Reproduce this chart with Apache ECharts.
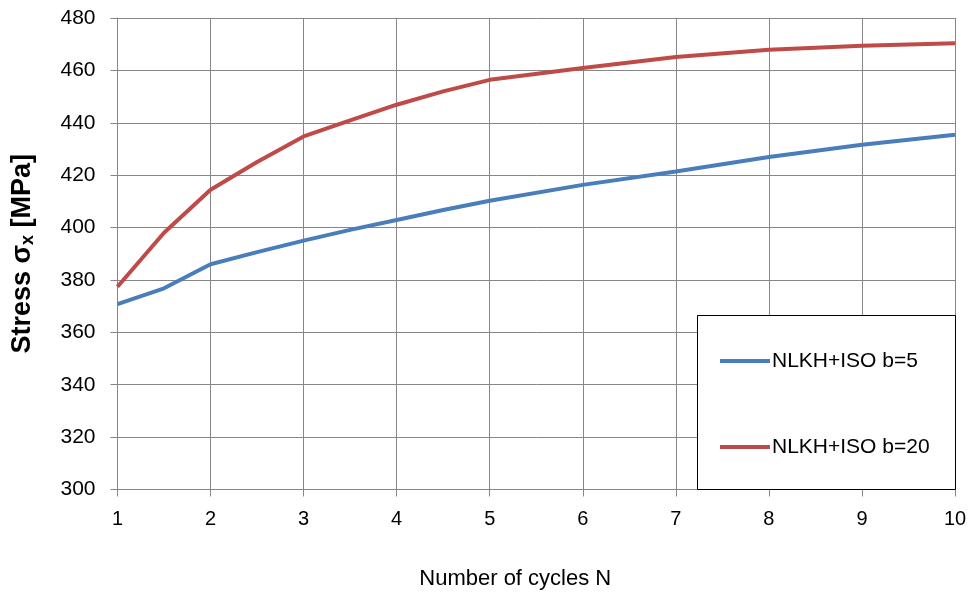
<!DOCTYPE html>
<html><head><meta charset="utf-8">
<script src="https://cdn.jsdelivr.net/npm/echarts@6/dist/echarts.min.js"></script>
<style>html,body{margin:0;padding:0;background:#fff}#c{width:970px;height:601px}</style>
</head><body><div id="c"></div>
<script>
const cycles = [1, 1.5, 2, 2.5, 3, 3.5, 4, 4.5, 5, 6, 7, 8, 9, 10];
const stressB5 = [370.8, 376.8, 386, 390.6, 395, 399.1, 402.9, 406.7, 410.2, 416.3, 421.4, 426.9, 431.6, 435.4];
const stressB20 = [377.4, 398, 414.4, 425, 434.8, 440.9, 446.9, 452, 456.4, 460.9, 465.1, 467.9, 469.4, 470.4];
const seriesNames = ['NLKH+ISO b=5', 'NLKH+ISO b=20'];
const yMin = 300, yMax = 480, yStep = 20;
const xMin = 1, xMax = 10, xStep = 1;

const font = 'Liberation Sans';
const gridC = '#868686';
const chart = echarts.init(document.getElementById('c'), null, {renderer: 'canvas'});
const pairs = vals => cycles.map((x, i) => [x, vals[i]]);
chart.setOption({
  animation: false,
  backgroundColor: '#fff',
  grid: {left: 117.5, right: 15, top: 18, bottom: 111.5, containLabel: false},
  xAxis: {
    type: 'value', min: xMin, max: xMax, interval: xStep,
    name: 'Number of cycles N', nameLocation: 'middle', nameGap: 78,
    nameTextStyle: {fontFamily: font, fontSize: 22, color: '#000', padding: [0, 42, 0, 0]},
    axisLine: {show: true, lineStyle: {color: gridC, width: 1}},
    axisTick: {show: true, length: 7, lineStyle: {color: gridC}},
    axisLabel: {fontFamily: font, fontSize: 20, color: '#000', margin: 20},
    splitLine: {show: true, lineStyle: {color: gridC, width: 1}}
  },
  yAxis: {
    type: 'value', min: yMin, max: yMax, interval: yStep,
    name: '{b|Stress σ}{s|x}{b| [MPa]}', nameLocation: 'middle', nameGap: 80,
    nameTextStyle: {rich: {
      b: {fontFamily: font, fontSize: 27, fontWeight: 'bold', color: '#000'},
      s: {fontFamily: font, fontSize: 18, fontWeight: 'bold', color: '#000', verticalAlign: 'bottom', padding: [12, 0, 0, 0]}
    }},
    axisLine: {show: true, lineStyle: {color: gridC, width: 1}},
    axisTick: {show: true, length: 7, lineStyle: {color: gridC}},
    axisLabel: {fontFamily: font, fontSize: 21, color: '#000', margin: 22},
    splitLine: {show: true, lineStyle: {color: gridC, width: 1}}
  },
  legend: {
    orient: 'vertical', left: 715, top: 344, itemGap: 62, z: 20, zlevel: 0,
    itemWidth: 50, itemHeight: 4, icon: 'rect',
    textStyle: {fontFamily: font, fontSize: 21, color: '#000', padding: [0, 0, 0, -3], lineHeight: 24},
    data: seriesNames
  },
  graphic: [{
    type: 'rect', left: 697, top: 315, z: 10,
    shape: {width: 258, height: 174},
    style: {fill: '#fff', stroke: '#000', lineWidth: 1}
  }],
  series: [
    {name: seriesNames[0], type: 'line', data: pairs(stressB5), symbol: 'none', smooth: false,
     lineStyle: {color: '#4a7ebb', width: 4}, itemStyle: {color: '#4a7ebb'}, z: 3},
    {name: seriesNames[1], type: 'line', data: pairs(stressB20), symbol: 'none', smooth: false,
     lineStyle: {color: '#be4b48', width: 4}, itemStyle: {color: '#be4b48'}, z: 3}
  ]
});
</script></body></html>
